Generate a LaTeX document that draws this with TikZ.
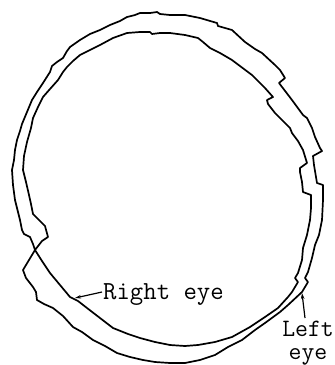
\documentclass[tikz,border=0pt]{standalone}
\usetikzlibrary{arrows.meta}
\begin{document}
\begin{tikzpicture}[x=1pt,y=-1pt,
  contour/.style={line width=1.7pt,line join=round,line cap=round},
  lbl/.style={font=\ttfamily\fontsize{25}{23}\selectfont,inner sep=0pt},
  ptr/.style={line width=1.2pt,-{Stealth[length=6pt,width=3.5pt]}}]
\useasboundingbox (0,0) rectangle (335,365);
\draw[contour] (35,250) -- (42,241) -- (48,237) -- (45,226) -- (38,219) -- (33,214) -- (31,204) -- (29,195) -- (26,182) -- (23,170) -- (24,156) -- (27,142) -- (31,128) -- (33,118) -- (38,107) -- (43,97) -- (50,89) -- (58,80) -- (63,72) -- (67,67) -- (73,61) -- (80,55) -- (90,50) -- (100,45) -- (113,38) -- (127,33) -- (140,32) -- (150,32) -- (152,34) -- (160,33) -- (170,33) -- (185,35) -- (198,38) -- (203,42) -- (210,48) -- (220,53) -- (232,60) -- (240,66) -- (252,75) -- (258,81) -- (265,88) -- (273,97) -- (267,100) -- (268,104) -- (275,113) -- (282,120) -- (290,128) -- (292,133) -- (298,141) -- (303,150) -- (307,163) -- (300,168) -- (300,172) -- (302,182) -- (303,192) -- (311,195) -- (311,208) -- (310,220) -- (307,235) -- (303,248) -- (302,260) -- (298,273) -- (295,278) -- (298,282) -- (292,292) -- (288,297) -- (278,308) -- (265,317) -- (250,327) -- (232,337) -- (215,342) -- (198,345) -- (185,346) -- (170,345) -- (155,342) -- (140,338) -- (128,334) -- (113,328) -- (100,318) -- (87,308) -- (78,301) -- (70,297) -- (60,285) -- (50,273) -- (42,261) -- (35,250)
 -- (33,244) -- (30,237) -- (24,234) -- (22,230) -- (20,220) -- (17,208) -- (15,200) -- (13,185) -- (12,170) -- (14,160) -- (15,150) -- (17,140) -- (20,131) -- (22,124) -- (27,112) -- (32,100) -- (37,92) -- (43,83) -- (50,72) -- (52,66) -- (57,62) -- (63,58) -- (67,51) -- (70,47) -- (80,40) -- (90,34) -- (100,30) -- (110,25) -- (120,21) -- (127,17) -- (135,15) -- (140,13) -- (150,13) -- (157,12) -- (160,14) -- (170,15) -- (185,15) -- (200,18) -- (217,23) -- (218,26) -- (232,30) -- (245,42) -- (255,49) -- (262,53) -- (275,65) -- (280,70) -- (285,78) -- (279,83) -- (292,100) -- (303,115) -- (307,118) -- (312,128) -- (315,137) -- (320,148) -- (322,151) -- (313,156) -- (314,165) -- (317,183) -- (323,185) -- (323,200) -- (322,220) -- (319,235) -- (315,245) -- (312,258) -- (308,272) -- (305,278) -- (308,282) -- (302,292) -- (288,305) -- (280,312) -- (265,323) -- (255,330) -- (242,340) -- (228,347) -- (215,355) -- (200,360) -- (185,363) -- (170,363) -- (155,362) -- (143,360) -- (130,357) -- (117,353) -- (105,346) -- (93,340) -- (82,332) -- (73,327) -- (63,316) -- (53,308) -- (44,304) -- (37,300) -- (36,292) -- (33,287) -- (26,278) -- (23,270) -- (29,260) -- cycle;
\node[lbl,font=\ttfamily\fontsize{26}{26}\selectfont,anchor=base west] (right) at (103,299) {Right eye};
\node[lbl,anchor=north,align=center] (left) at (308,321) {Left\\eye};
\coordinate (rtip) at (75,298);
\coordinate (rtail) at (102,292);
\coordinate (ltip) at (302,293);
\coordinate (ltail) at (305,318);
\draw[ptr] (rtail) -- (rtip);
\draw[ptr] (ltail) -- (ltip);
\end{tikzpicture}
\end{document}
